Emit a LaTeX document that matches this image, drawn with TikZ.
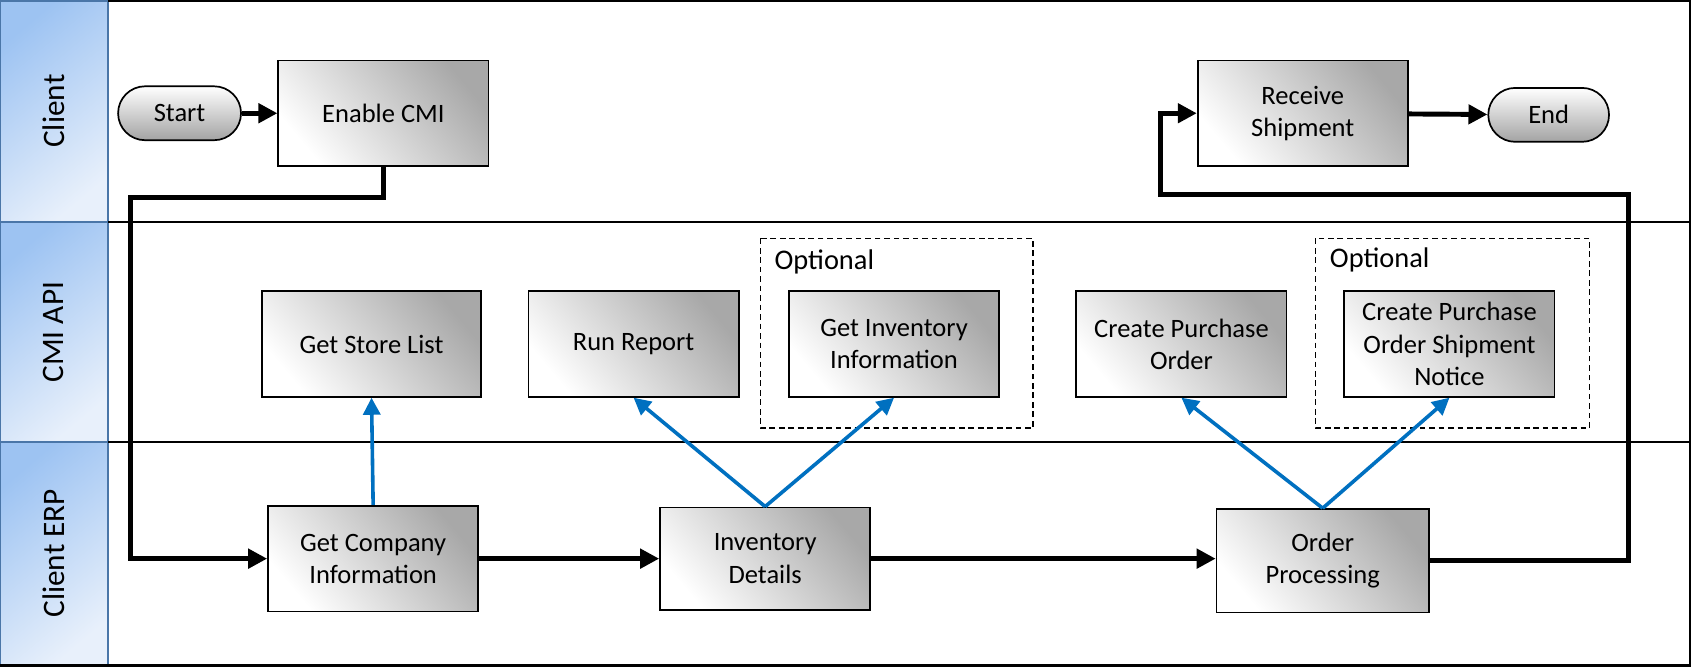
\documentclass[tikz,border=0pt]{standalone}
\usepackage{fontspec}
\setmainfont{Carlito}
\usetikzlibrary{arrows.meta}

\definecolor{lanedark}{HTML}{9DC3F2}
\definecolor{lanelight}{HTML}{E8F0FB}
\definecolor{laneedge}{HTML}{4A76A8}
\definecolor{callblue}{HTML}{0070C0}

\tikzset{
	proc/.style={draw, line width=0.9pt, minimum width=3.9cm, minimum height=1.96cm,
		align=center, font=\fontsize{14}{17}\selectfont,
		top color=black!34, middle color=black!7, bottom color=white, shading angle=-50},
	term/.style={draw, line width=0.9pt, rounded corners=0.5cm, minimum width=2.28cm,
		minimum height=1.0cm, font=\fontsize{14}{17}\selectfont,
		top color=white, bottom color=black!36},
	lanehead/.style={draw=laneedge, line width=1pt, top color=lanedark,
		bottom color=lanelight, shading angle=40},
	lanetext/.style={rotate=90, font=\fontsize{16.5}{19}\selectfont},
	flow/.style={line width=2.6pt, -{Triangle[length=10pt,width=10pt]}},
	call/.style={draw=callblue, line width=1.9pt, -{Triangle[length=9pt,width=9pt]}},
	optbox/.style={draw, line width=0.8pt, dash pattern=on 3pt off 2pt}
}

\begin{document}
\begin{tikzpicture}[x=0.02cm,y=-0.02cm]
	
		\useasboundingbox (0,0) rectangle (1568,618.5);
		
		% lanes
		\shade[lanehead] (0,1) rectangle (100,206);
		\shade[lanehead] (0,206) rectangle (100,410);
		\shade[lanehead] (0,410) rectangle (100,617);
		\draw[laneedge, line width=1pt] (0,1) rectangle (100,206) (0,206) rectangle (100,410) (0,410) rectangle (100,617);
		\node[lanetext] (client) at (50,103) {Client};
		\node[lanetext] (api) at (50,308) {CMI API};
		\node[lanetext] (erp) at (50,513) {Client ERP};
		\draw[line width=1pt] (100,206) -- (1567,206) (100,410) -- (1567,410);
		\draw[line width=1.2pt] (100,1) -| (1567,617) -- (0,617);
		
		% optional groups
		\draw[optbox] (705,221) rectangle (958,397);
		\node[anchor=west, font=\fontsize{15}{18}\selectfont] (opt1) at (712,243) {Optional};
		\draw[optbox] (1220,221) rectangle (1474,397);
		\node[anchor=west, font=\fontsize{15}{18}\selectfont] (opt2) at (1227,241) {Optional};
		
		% client
		\node[term] (start) at (166.5,105) {Start};
		\node[proc] (enable) at (355.5,105) {Enable CMI};
		\node[proc] (receive) at (1208,105) {Receive\\Shipment};
		\node[term, minimum width=2.24cm] (end) at (1436,106.5) {End};
		
		% cmi api
		\node[proc, minimum width=4.06cm] (store) at (344.5,319) {Get Store List};
		\node[proc] (report) at (587.5,319) {Run Report};
		\node[proc] (getinv) at (829,319) {Get Inventory\\Information};
		\node[proc] (po) at (1095.5,319) {Create Purchase\\Order};
		\node[proc] (notice) at (1344,319) {Create Purchase\\Order Shipment\\Notice};
		
		% client erp
		\node[proc] (company) at (346,518) {Get Company\\Information};
		\node[proc, minimum height=1.9cm] (invdet) at (709.5,518) {Inventory\\Details};
		\node[proc, minimum width=3.94cm, minimum height=1.92cm] (order) at (1226.5,520) {Order\\Processing};
		
		\coordinate (c1) at (121,183);
		\coordinate (c2) at (1510,180);
		\coordinate (c3) at (1076,180);
		
		\draw[flow] (start) -- (enable);
		\draw[flow] (enable.south) |- (c1) |- (company.west);
		\draw[flow] (company) -- (invdet);
		\draw[flow] (invdet.east) -- (order.west |- invdet.east);
		\draw[flow] (order.east) -| (c2) -- (c3) |- (receive.west);
		\draw[flow] (receive) -- (end);
		
		\draw[call] (company.north) -- (store.south);
		\draw[call] (invdet.north) -- (report.south);
		\draw[call] (invdet.north) -- (getinv.south);
		\draw[call] (order.north) -- (po.south);
		\draw[call] (order.north) -- (notice.south);
		  
\end{tikzpicture}
\end{document}
